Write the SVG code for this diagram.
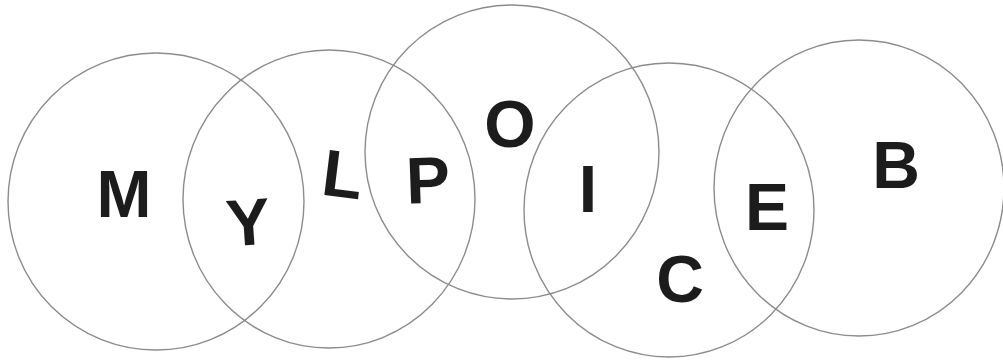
<svg xmlns="http://www.w3.org/2000/svg" width="1003" height="364" viewBox="0 0 1003 364">
  <style>
    .ring { fill: none; stroke: #8c8c8c; stroke-width: 1.4; }
    .lt { font-family: "Liberation Sans", Arial, sans-serif; font-weight: bold; font-size: 66px; fill: #1c1c1c; text-anchor: middle; }
  </style>
  <rect width="1003" height="364" fill="#ffffff"/>
  <g id="circles">
    <ellipse id="circle-1" class="ring" cx="156" cy="201.5" rx="148" ry="148.5"/>
    <ellipse id="circle-2" class="ring" cx="329" cy="199" rx="146" ry="149"/>
    <ellipse id="circle-3" class="ring" cx="512" cy="152" rx="147" ry="147"/>
    <ellipse id="circle-4" class="ring" cx="669" cy="210" rx="145" ry="147"/>
    <ellipse id="circle-5" class="ring" cx="859" cy="188" rx="145" ry="148"/>
  </g>
  <g id="letters">
    <text id="letter-M" class="lt" x="124" y="217">M</text>
    <text id="letter-Y" class="lt" x="248" y="245" transform="rotate(-4 248 221)">Y</text>
    <text id="letter-L" class="lt" x="343" y="197" transform="rotate(7 341 173)">L</text>
    <text id="letter-P" class="lt" x="428" y="203" transform="rotate(-2 427 180)">P</text>
    <text id="letter-O" class="lt" x="510" y="147">O</text>
    <text id="letter-I" class="lt" x="588" y="212">I</text>
    <text id="letter-C" class="lt" x="680" y="302">C</text>
    <text id="letter-E" class="lt" x="767" y="230">E</text>
    <text id="letter-B" class="lt" x="896" y="188">B</text>
  </g>
</svg>
